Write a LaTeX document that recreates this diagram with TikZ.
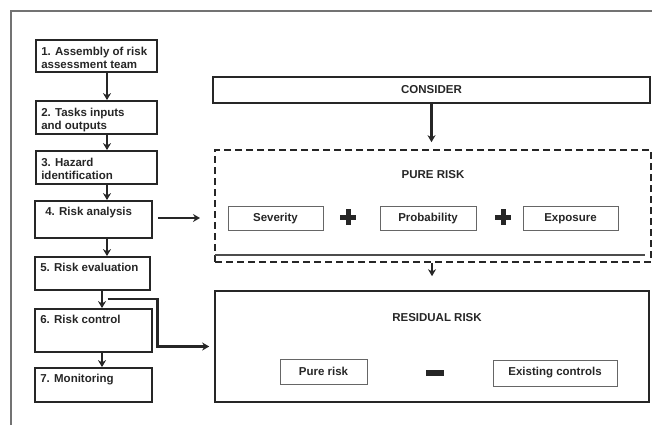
\documentclass[tikz,border=0pt]{standalone}
\usepackage{fontspec}
\setmainfont{Liberation Sans}
\usetikzlibrary{arrows.meta}
\begin{document}
\begin{tikzpicture}[x=1pt, y=-1pt,
        font=\fontsize{11.5}{13}\selectfont\bfseries,
        every node/.style={text=black!85},
        stagebox/.style={draw=black!85, line width=1.8pt, minimum width=121pt, inner sep=0pt},
        stagetext/.style={anchor=north west, align=left, inner xsep=6pt, inner ysep=7pt},
        bigbox/.style={draw=black!85, line width=1.6pt, inner sep=0pt},
        factor/.style={draw=black!60, line width=1pt, minimum height=24pt, inner sep=0pt},
        flow/.style={line width=2.2pt, draw=black!85, -{Stealth[length=7pt, width=8pt]}}]

        \useasboundingbox (0,0) rectangle (652,425);

        % Outer frame
        \draw[black!55, line width=1.4pt] (11,425) -- (11,11) -- (652,11);

        % Steps of the assessment
        \node[stagebox, minimum height=32pt] (s1) at (96.5,56) {};
        \node[stagebox, minimum height=33pt] (s2) at (96.5,117.5) {};
        \node[stagebox, minimum height=33pt] (s3) at (96.5,167.5) {};
        \node[stagebox, minimum width=117pt, minimum height=37pt] (s4) at (93.5,219.5) {};
        \node[stagebox, minimum width=115pt, minimum height=33pt] (s5) at (92.5,273.5) {};
        \node[stagebox, minimum width=117pt, minimum height=43pt] (s6) at (93.5,330.5) {};
        \node[stagebox, minimum width=117pt, minimum height=34pt] (s7) at (93.5,385) {};

        \node[stagetext, yshift=-1pt] (t1) at (s1.north west) {1. Assembly of risk\\assessment team};
        \node[stagetext, yshift=-1pt] (t2) at (s2.north west) {2. Tasks inputs\\and outputs};
        \node[stagetext, yshift=-1pt] (t3) at (s3.north west) {3. Hazard\\identification};
        \node[stagetext, xshift=5pt] (t4) at (s4.north west) {4. Risk analysis};
        \node[stagetext] (t5) at (s5.north west) {5. Risk evaluation};
        \node[stagetext] (t6) at (s6.north west) {6. Risk control};
        \node[stagetext] (t7) at (s7.north west) {7. Monitoring};

        \draw[flow] (s1.south -| 107,0) -- (s2.north -| 107,0);
        \draw[flow] (s2.south -| 107,0) -- (s3.north -| 107,0);
        \draw[flow] (s3.south -| 107,0) -- (s4.north -| 107,0);
        \draw[flow] (s4.south -| 107,0) -- (s5.north -| 107,0);
        \draw[flow] (s5.south -| 102,0) -- (s6.north -| 102,0);
        \draw[flow] (s6.south -| 102,0) -- (s7.north -| 102,0);

        % Consider / pure risk / residual risk
        \node[bigbox, minimum width=437pt, minimum height=26pt] (consider) at (431.5,90) {CONSIDER};
        \node[bigbox, dash pattern=on 7pt off 4pt, minimum width=436pt, minimum height=112pt] (pure) at (433,206) {};
        \draw[black!70, line width=1.2pt] (215,255) -- (645,255);
        \node[bigbox, minimum width=434pt, minimum height=111pt] (residual) at (432,346.5) {};

        \node (pt) at (433,175) {PURE RISK};
        \node[factor, minimum width=95pt] (sev) at (275.5,218.5) {Severity};
        \node[factor, minimum width=96pt] (prob) at (428,218.5) {Probability};
        \node[factor, minimum width=95pt] (expo) at (570.5,218.5) {Exposure};
        \foreach \px in {348,503}
            \draw[line width=5pt, black!85] (\px-8,217) -- (\px+8,217) (\px,209) -- (\px,225);

        \node (rt) at (437,318) {RESIDUAL RISK};
        \node[factor, minimum width=87pt, minimum height=25pt] (pr) at (323.5,371.5) {Pure risk};
        \node[factor, minimum width=124pt, minimum height=26pt] (ec) at (555,373) {Existing controls};
        \draw[line width=6pt, black!85] (426,373) -- (444,373);

        % Connectors to the right side
        \coordinate (pin) at (200,218);
        \draw[flow] ([xshift=5pt]s4.east |- pin) -- (pin);
        \draw[flow] (consider.south) -- ([yshift=7pt]consider.south |- pure.north);
        \draw[flow] (pure.south -| 432,0) -- ([yshift=14pt]residual.north -| 432,0);
        \draw[flow] ([xshift=15pt, yshift=-8pt]s5.south) -- ++(50,0) |- ([xshift=-5pt]residual.west);
\end{tikzpicture}
\end{document}
